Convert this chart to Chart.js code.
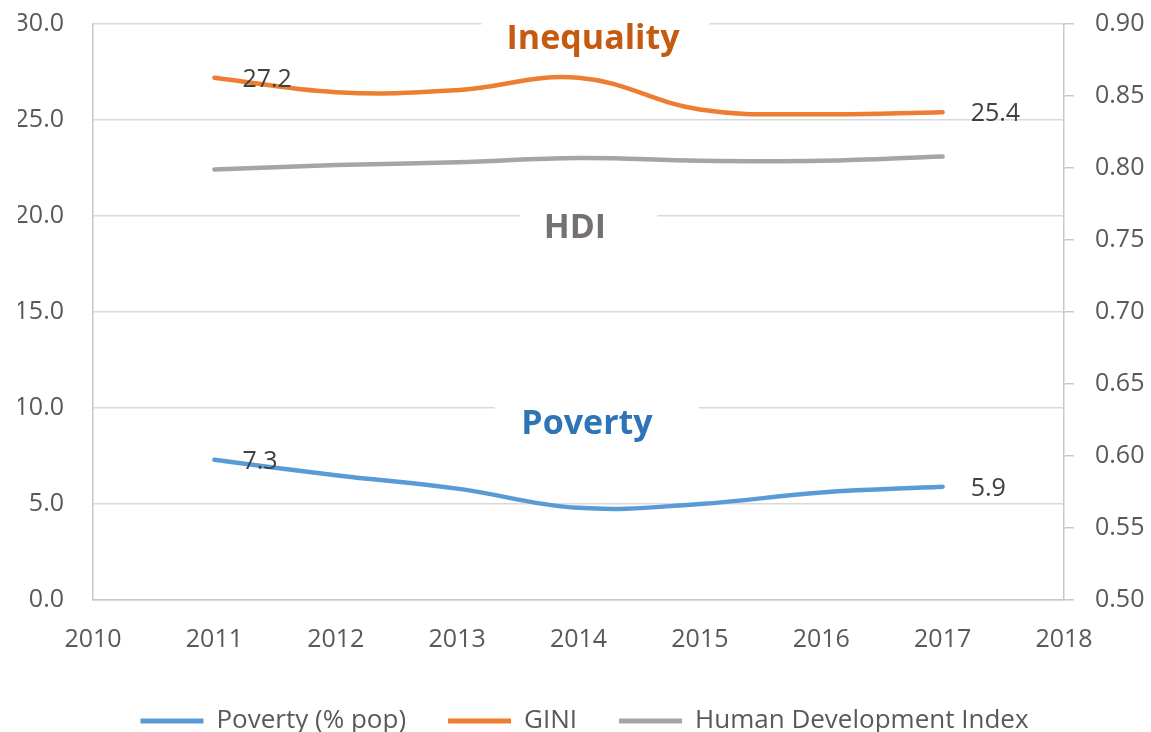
<!DOCTYPE html>
<html>
<head>
<meta charset="utf-8">
<script src="https://cdn.jsdelivr.net/npm/chart.js@4/dist/chart.umd.min.js"></script>
<style>
  html, body { margin: 0; padding: 0; background: #ffffff; }
  #wrap { width: 1151px; height: 732px; position: relative; }
</style>
</head>
<body>
<div id="wrap"><canvas id="c" width="1151" height="732"></canvas></div>
<script>
// ---- data ----
const years = [2011, 2012, 2013, 2014, 2015, 2016, 2017];
const poverty = [7.3, 6.5, 5.8, 4.8, 5.0, 5.6, 5.9];
const gini = [27.2, 26.45, 26.55, 27.2, 25.55, 25.3, 25.4];
const hdi = [0.799, 0.802, 0.804, 0.807, 0.805, 0.805, 0.808];
const seriesNames = ['Poverty (% pop)', 'GINI', 'Human Development Index'];
const leftTicks = [0, 5, 10, 15, 20, 25, 30];
const rightTicks = [0.5, 0.55, 0.6, 0.65, 0.7, 0.75, 0.8, 0.85, 0.9];
const xTicks = [2010, 2011, 2012, 2013, 2014, 2015, 2016, 2017, 2018];
const annotations = [
  { text: 'Inequality', x: 2014.12, y: 28.71, box: [2013.2, 2015.08], boxY: 30, color: '#c55a11' },
  { text: 'HDI', x: 2013.97, y: 18.85, box: [2013.52, 2014.65], boxY: 20, color: '#767171' },
  { text: 'Poverty', x: 2014.07, y: 8.66, box: [2013.31, 2014.99], boxY: 10, color: '#2e75b6' }
];

const FONT = '"Open Sans", "DejaVu Sans", sans-serif';
const toXY = (arr) => arr.map((v, i) => ({ x: years[i], y: v }));

const annotationPlugin = {
  id: 'annot',
  beforeDatasetsDraw(chart) {
    const ctx = chart.ctx;
    const xs = chart.scales.x, ys = chart.scales.y;
    ctx.save();
    annotations.forEach(a => {
      const x0 = xs.getPixelForValue(a.box[0]);
      const x1 = xs.getPixelForValue(a.box[1]);
      const yb = ys.getPixelForValue(a.boxY);
      ctx.fillStyle = '#ffffff';
      ctx.fillRect(x0, yb - 4, x1 - x0, 8);
      ctx.fillStyle = a.color;
      ctx.font = 'bold 34px ' + FONT;
      ctx.textAlign = 'center';
      ctx.textBaseline = 'alphabetic';
      ctx.fillText(a.text, xs.getPixelForValue(a.x), ys.getPixelForValue(a.y));
    });
    ctx.restore();
  },
  afterDatasetsDraw(chart) {
    const ctx = chart.ctx;
    ctx.save();
    ctx.fillStyle = '#404040';
    ctx.font = '25px ' + FONT;
    ctx.textAlign = 'left';
    ctx.textBaseline = 'middle';
    [0, 1].forEach(di => {
      const meta = chart.getDatasetMeta(di);
      const data = chart.data.datasets[di].data;
      [0, data.length - 1].forEach(idx => {
        const pt = meta.data[idx];
        ctx.fillText(data[idx].y.toFixed(1), pt.x + 28, pt.y + 2);
      });
    });
    ctx.restore();
  }
};

const noPad = (scale) => { scale.paddingTop = 0; scale.paddingBottom = 0; };

new Chart(document.getElementById('c'), {
  type: 'line',
  data: {
    datasets: [
      { label: seriesNames[0], data: toXY(poverty), borderColor: '#5b9bd5', backgroundColor: '#5b9bd5', yAxisID: 'y' },
      { label: seriesNames[1], data: toXY(gini), borderColor: '#ed7d31', backgroundColor: '#ed7d31', yAxisID: 'y' },
      { label: seriesNames[2], data: toXY(hdi), borderColor: '#a5a5a5', backgroundColor: '#a5a5a5', yAxisID: 'y1' }
    ]
  },
  options: {
    responsive: false,
    animation: false,
    layout: { padding: { top: 24, bottom: -12, left: 18, right: 0 } },
    elements: {
      line: { borderWidth: 4.5, tension: 0.4, borderCapStyle: 'round', borderJoinStyle: 'round', fill: false },
      point: { radius: 0, hoverRadius: 0 }
    },
    plugins: {
      tooltip: { enabled: false },
      legend: {
        position: 'bottom',
        labels: {
          color: '#595959',
          font: { family: FONT, size: 26 },
          boxWidth: 63,
          boxHeight: 5,
          padding: 42,
          generateLabels(chart) {
            const items = Chart.defaults.plugins.legend.labels.generateLabels(chart);
            items.forEach(it => { it.lineWidth = 0; });
            return items;
          }
        }
      }
    },
    scales: {
      x: {
        type: 'linear',
        min: 2010, max: 2018,
        afterBuildTicks(scale) { scale.ticks = xTicks.map(v => ({ value: v })); },
        grid: { display: false },
        border: { display: true, color: '#c8c8c8', width: 1.5 },
        ticks: { color: '#595959', font: { family: FONT, size: 25 }, padding: 17, callback: v => String(v) },
        afterFit(scale) { scale.height = 66; }
      },
      y: {
        position: 'left',
        min: 0, max: 30,
        afterBuildTicks(scale) { scale.ticks = leftTicks.map(v => ({ value: v })); },
        grid: { color: '#d9d9d9', lineWidth: 1.5, drawTicks: false },
        border: { display: true, color: '#c8c8c8', width: 1.5 },
        ticks: { color: '#595959', font: { family: FONT, size: 25 }, padding: 29, callback: v => Number(v).toFixed(1) },
        afterFit(scale) { scale.width = 75; noPad(scale); }
      },
      y1: {
        position: 'right',
        min: 0.5, max: 0.9,
        afterBuildTicks(scale) { scale.ticks = rightTicks.map(v => ({ value: v })); },
        grid: { drawOnChartArea: false, drawTicks: true, tickLength: 10, color: '#c8c8c8', lineWidth: 1.5 },
        border: { display: true, color: '#c8c8c8', width: 1.5 },
        ticks: { color: '#595959', font: { family: FONT, size: 25 }, padding: 21, callback: v => Number(v).toFixed(2) },
        afterFit(scale) { scale.width = 87; noPad(scale); }
      }
    }
  },
  plugins: [annotationPlugin]
});
</script>
</body>
</html>
